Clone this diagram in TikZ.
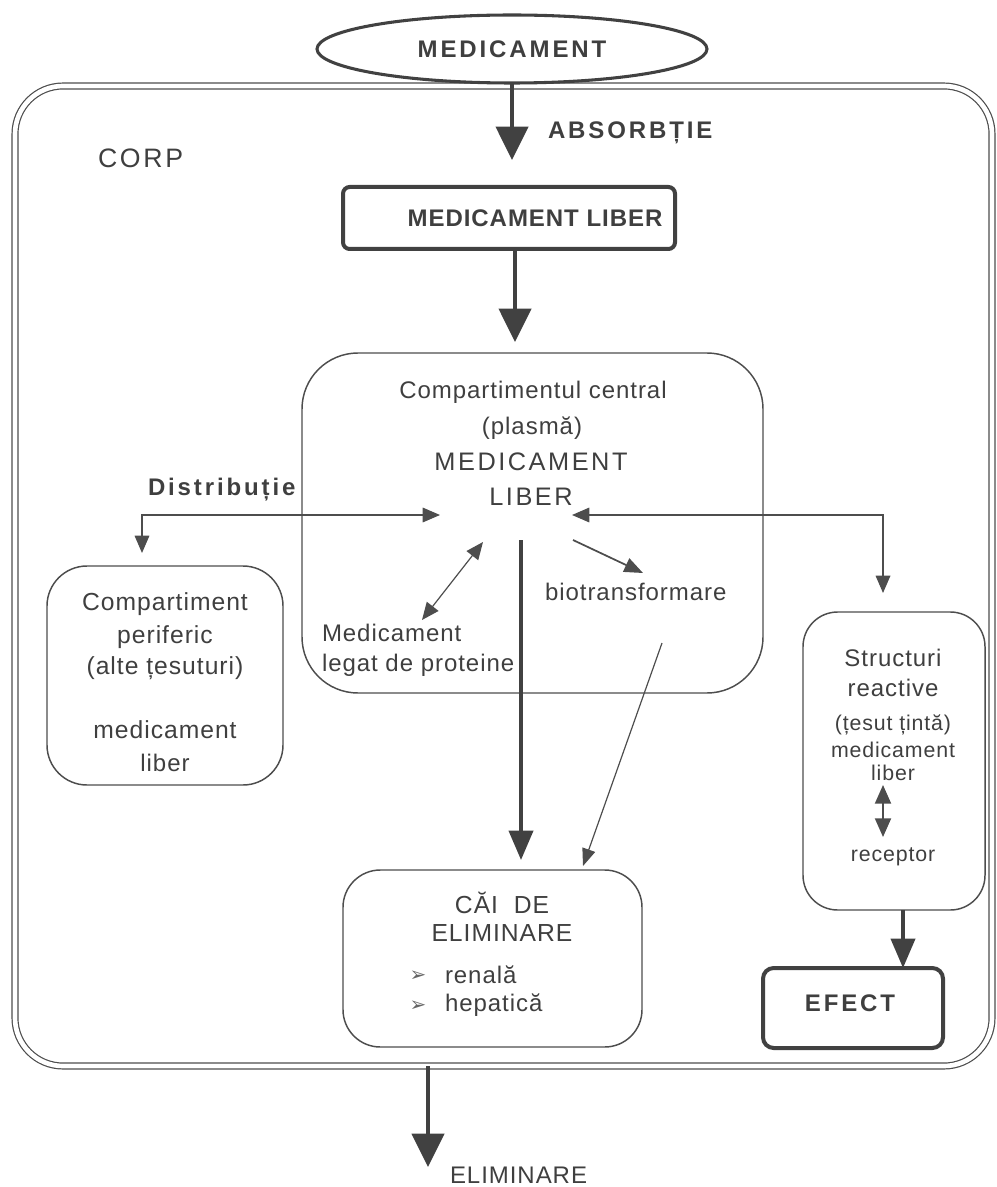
\documentclass[tikz,border=0pt]{standalone}
\usepackage{fontspec}
\setmainfont{Liberation Sans}
\newfontfamily\fa[LetterSpace=4]{Liberation Sans}
\newfontfamily\fc[LetterSpace=10]{Liberation Sans}
\newfontfamily\fb[LetterSpace=12]{Liberation Sans}
\newfontfamily\dejavu{DejaVu Sans}
\usetikzlibrary{arrows.meta,shapes.geometric}
\definecolor{ink}{HTML}{4D4D4D}
\definecolor{txt}{HTML}{3F3F3F}
\newcommand\setsz[1]{\fontsize{#1}{#1}\selectfont}
\begin{document}
\begin{tikzpicture}[x=0.75pt,y=-0.75pt,
  every node/.style={text=txt, inner sep=0pt, outer sep=0pt},
  rbox/.style={draw=ink, line width=1.1pt},
  hbox/.style={draw=ink!85!black, line width=3pt},
  big/.style={draw=ink!85!black, line width=3pt, -{Triangle[width=24pt,length=25pt]}},
  vbig/.style={draw=ink!85!black, line width=2.8pt, -{Triangle[width=18pt,length=22pt]}},
  mid/.style={draw=ink, line width=1.3pt, -{Triangle[width=11pt,length=14pt]}},
  thinar/.style={draw=ink, line width=0.9pt, -{Triangle[width=10pt,length=13pt]}},
  twoway/.style={draw=ink, line width=0.9pt, {Triangle[width=11pt,length=13pt]}-{Triangle[width=11pt,length=13pt]}},
  twowayb/.style={draw=ink, line width=1.5pt, {Triangle[width=12pt,length=14pt]}-{Triangle[width=12pt,length=14pt]}},
  rm/.style={font=\fa\setsz{18pt}},
  rp/.style={font=\fa\setsz{18.5pt}},
  ru/.style={font=\fc\setsz{19pt}},
  rs/.style={font=\fa\setsz{16pt}},
  bd/.style={font=\fb\bfseries\setsz{18pt}},
]
\useasboundingbox (0,0) rectangle (996,1187);

% body (double border)
\node[draw=ink, line width=0.9pt, double=white, double distance=3.5pt, rounded corners=36pt,
      minimum width=977*0.75pt, minimum height=980*0.75pt] (body) at (503.5,576) {};
\node[font=\fc\setsz{20pt}, anchor=west] (corp) at (98,158) {CORP};

% drug ellipse
\node[ellipse, draw=ink!85!black, line width=2.3pt, minimum width=390*0.75pt, minimum height=68*0.75pt,
      bd] (med) at (512,49) {MEDICAMENT};

% absorption
\coordinate (absend) at (512,160);
\draw[big] (med.south) -- (absend);
\node[bd, anchor=west] (abs) at (548,133) {ABSORBȚIE};

% free drug box
\node[hbox, rounded corners=5pt, minimum width=332*0.75pt, minimum height=62*0.75pt] (liber) at (509,218) {};
\node[font=\fa\bfseries\setsz{18pt}] (libertxt) at (535,218) {MEDICAMENT LIBER};
\coordinate (cin) at (515,342);
\draw[big] (liber.south -| cin) -- (cin);

% central compartment
\node[rbox, rounded corners=42pt, minimum width=461*0.75pt, minimum height=340*0.75pt] (central) at (532.5,523) {};
\node[rm] (ct1) at (533,392) {Compartimentul central};
\node[rm] (ct2) at (532,428) {(plasmă)};
\node[ru] (ct3) at (531,462) {MEDICAMENT};
\node[ru] (ct4) at (531,497) {LIBER};

% distribution
\node[bd, anchor=west] (dist) at (148,490) {Distribuție};
\coordinate (dR) at (440,515);
\coordinate (dD) at (142,553);
\draw[twoway] (dR) -| (dD);
\coordinate (eL) at (572,515);
\coordinate (eD) at (883,593);
\draw[twoway] (eL) -| (eD);

% protein binding
\node[rm, anchor=west] (leg1) at (322,633) {Medicament};
\node[rm, anchor=west] (leg2) at (322,665) {legat de proteine};
\coordinate (lgT) at (483,542);
\coordinate (lgB) at (422,620);
\draw[twoway] (lgB) -- (lgT);

% biotransformation
\node[rm, anchor=west] (bio) at (545,592) {biotransformare};
\coordinate (bS) at (573,540);
\coordinate (bT) at (643,573);
\draw[mid] (bS) -- (bT);

% elimination routes box
\node[rbox, rounded corners=28pt, minimum width=299*0.75pt, minimum height=177*0.75pt] (cai) at (492.5,958.5) {};
\node[font=\fa\setsz{18.5pt}] (cai1) at (502,903) {CĂI\ \ DE};
\node[font=\fa\setsz{18.5pt}] (cai2) at (502,933) {ELIMINARE};
\node[font=\dejavu\setsz{15pt}, text=txt!80] (b1) at (418,976) {➢};
\node[rm, anchor=west] (r1) at (445,975) {renală};
\node[font=\dejavu\setsz{15pt}, text=txt!80] (b2) at (418,1006) {➢};
\node[rm, anchor=west] (r2) at (445,1005) {hepatică};

\coordinate (vS) at (521,540);
\coordinate (vE) at (521,860);
\draw[vbig] (vS) -- (vE);
\coordinate (tS) at (662,643);
\coordinate (tE) at (583,866);
\draw[thinar] (tS) -- (tE);

% peripheral compartment
\node[rbox, rounded corners=30pt, minimum width=236*0.75pt, minimum height=219*0.75pt] (periph) at (165,675.5) {};
\node[rp] (p1) at (165,604) {Compartiment};
\node[rp] (p2) at (165,637) {periferic};
\node[rp] (p3) at (165,668) {(alte țesuturi)};
\node[rp] (p4) at (165,730) {medicament};
\node[rm] (p5) at (165,763) {liber};

% reactive structures
\node[rbox, rounded corners=26pt, minimum width=182*0.75pt, minimum height=298*0.75pt] (struct) at (894,761) {};
\node[rm] (s1) at (893,658) {Structuri};
\node[rm] (s2) at (893,688) {reactive};
\node[rs] (s3) at (893,725) {(țesut țintă)};
\node[rs] (s4) at (893,750) {medicament};
\node[rs] (s5) at (893,773) {liber};
\node[rs] (s6) at (893,857) {receptor};
\coordinate (rT) at (883,785);
\coordinate (rB) at (883,837);
\draw[twowayb] (rT) -- (rB);

% effect
\node[hbox, rounded corners=8pt, minimum width=180*0.75pt, minimum height=80*0.75pt] (efect) at (853,1008) {};
\node[font=\fb\bfseries\setsz{18pt}] (eftxt) at (850,1003) {EFECT};
\coordinate (efx) at (903,0);
\draw[vbig] (struct.south -| efx) -- (efect.north -| efx);

% elimination out of body
\coordinate (elx) at (428,0);
\coordinate (elEnd) at (428,1167);
\draw[big] (body.south -| elx) -- (elEnd);
\node[rm, anchor=west] (elim) at (450,1175) {ELIMINARE};
\end{tikzpicture}
\end{document}
